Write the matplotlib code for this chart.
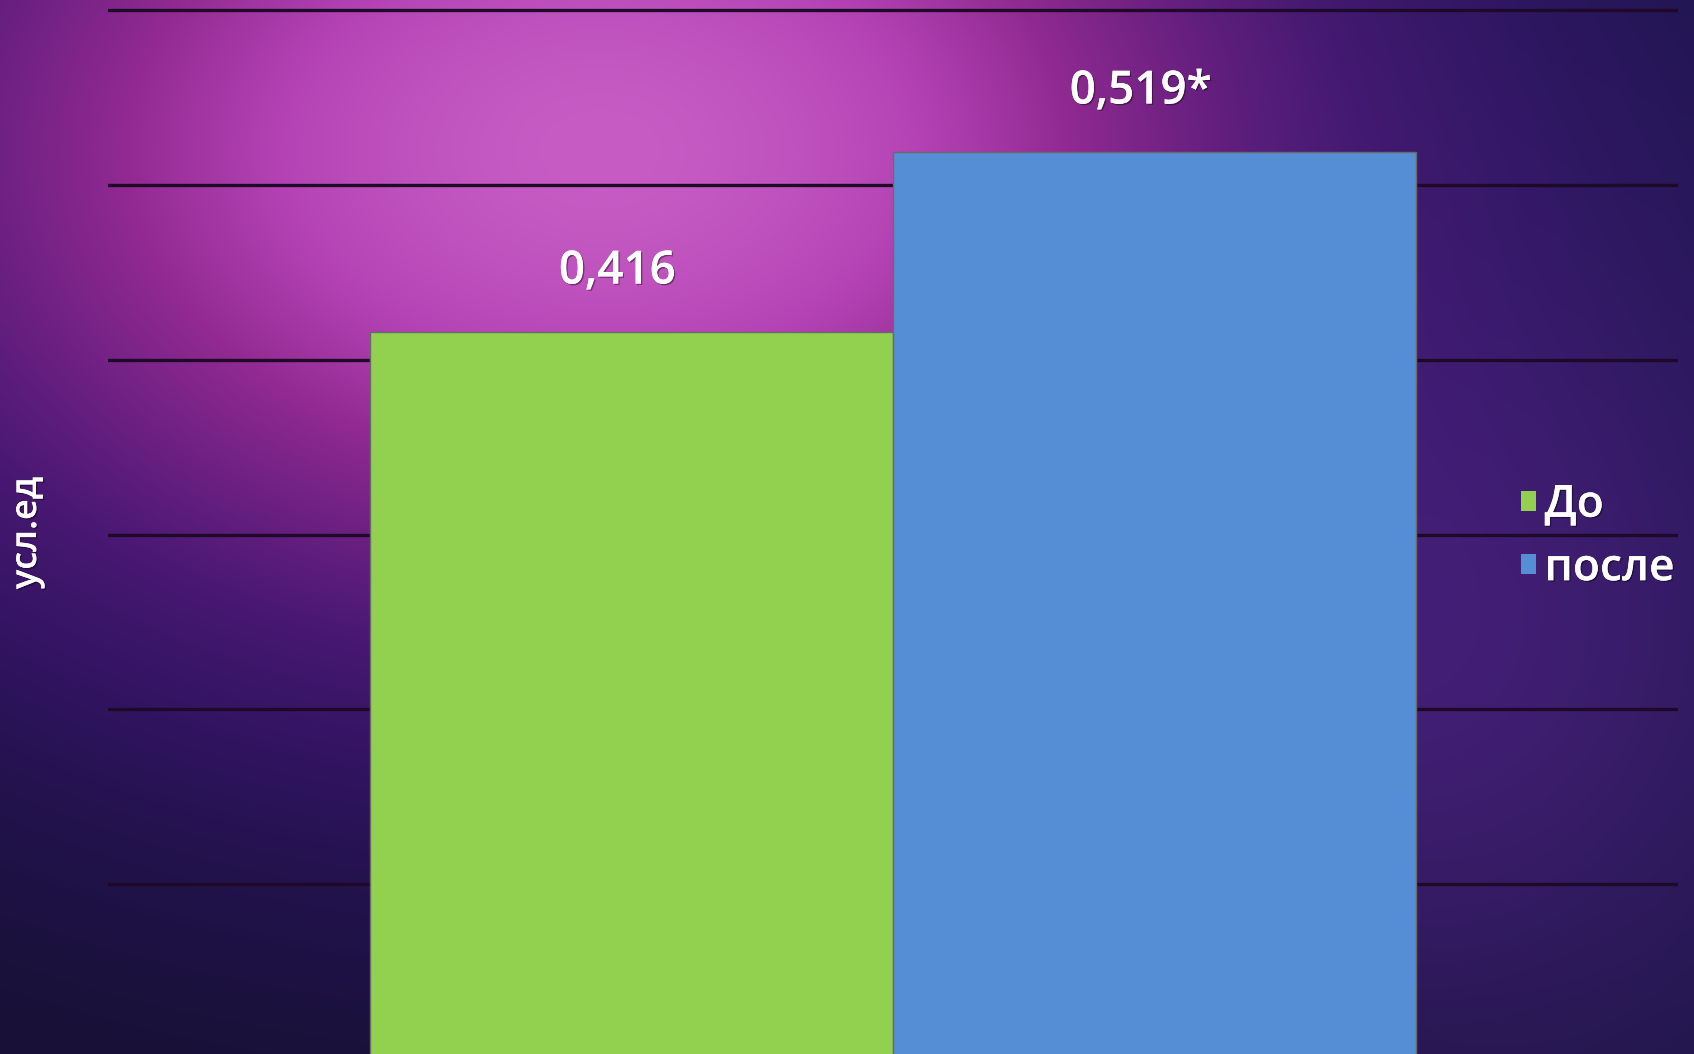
import numpy as np
import matplotlib.pyplot as plt
import matplotlib.patheffects as pe

plt.rcParams['font.family'] = ['Open Sans', 'DejaVu Sans']

groups = ['До', 'после']
values = [0.416, 0.519]
value_labels = ['0,416', '0,519*']
bar_colors = ['#92d050', '#558ed5']
y_label = 'усл.ед'
grid_ticks = [0.1, 0.2, 0.3, 0.4, 0.5, 0.6]

W, H = 1694, 1054


def background():
    yy, xx = np.mgrid[0:H, 0:W].astype(float)
    # main magenta glow
    r1 = ((xx - 600) / 560) ** 2 + ((yy - 150) / 380) ** 2
    w1 = np.exp(-r1 / 2)
    # softer violet glow at the right
    r2 = ((xx - 1420) / 280) ** 2 + ((yy - 640) / 300) ** 2
    w2 = np.exp(-r2 / 2)

    stops = [0.0, 0.1, 0.25, 0.4, 0.55, 0.7, 0.85, 1.0]
    reds = [22, 30, 50, 72, 108, 146, 180, 198]
    greens = [16, 18, 20, 24, 32, 42, 66, 92]
    blues = [46, 70, 98, 114, 130, 146, 180, 196]
    img = np.dstack([np.interp(w1, stops, reds),
                     np.interp(w1, stops, greens),
                     np.interp(w1, stops, blues)])

    # navy shift toward the right
    t = np.clip((xx - 900) / 800, 0, 1)[..., None] * (1 - w1[..., None])
    navy = np.array([30, 26, 90.0])
    img = img * (1 - 0.5 * t) + navy * 0.5 * t
    glow = np.array([78, 34, 130.0])
    img = img + (glow - img) * (0.75 * w2[..., None]) * (img.sum(-1, keepdims=True) < glow.sum())
    return np.clip(img / 255, 0, 1)


fig = plt.figure(figsize=(W / 100, H / 100), dpi=100)
bg = fig.add_axes([0, 0, 1, 1])
bg.imshow(background(), aspect='auto', interpolation='bilinear')
bg.axis('off')

ax = fig.add_axes([108 / W, -5 / H, (1678 - 108) / W, 1059 / H])
ax.patch.set_alpha(0)
ax.set_xlim(-0.5, 0.5)
ax.set_ylim(0, 0.6058)

for g in grid_ticks:
    ax.axhline(g, color='#1e0a28', lw=2.4, zorder=1)

x = np.array([-1 / 6, 1 / 6])
bars = ax.bar(x, values, width=1 / 3, color=bar_colors, edgecolor='#6a6a6a',
              linewidth=1, zorder=2, label=groups)

shadow = [pe.withSimplePatchShadow(offset=(1, -1), shadow_rgbFace='black', alpha=0.4), pe.Normal()]
for xi, v, lab in zip(x, values, value_labels):
    ax.annotate(lab, (xi, v), xytext=(-10, 43), textcoords='offset points',
                ha='center', va='center', fontsize=33, color='white',
                fontweight='semibold', path_effects=shadow)

for s in ax.spines.values():
    s.set_visible(False)
ax.set_xticks([])
ax.set_yticks([])

leg = fig.legend(bars, groups, loc='center left', bbox_to_anchor=(1521 / W, 1 - 537 / H),
                 frameon=False, fontsize=32, handlelength=0.33, handleheight=0.33,
                 handletextpad=0.2, labelspacing=0.46, borderpad=0, borderaxespad=0)
for txt in leg.get_texts():
    txt.set_color('white')
    txt.set_fontweight('semibold')
    txt.set_path_effects(shadow)
for h in leg.legend_handles:
    h.set_edgecolor('none')

fig.text(27 / W, 1 - 533 / H, y_label, rotation=90, ha='center', va='center',
         fontsize=26, color='white', fontweight='semibold', path_effects=shadow)

fig.savefig('out.png', dpi=100)
